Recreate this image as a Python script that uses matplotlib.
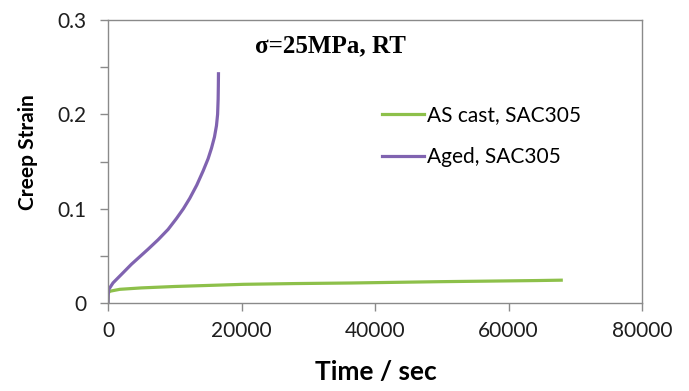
import matplotlib
matplotlib.use("Agg")
import matplotlib.pyplot as plt

# Data
ascast_time = [0, 20, 300, 1760, 5000, 10000, 20300, 28000, 36400, 49700, 57000, 64300, 67900]
ascast_strain = [0.0, 0.0106, 0.0125, 0.0145, 0.0160, 0.0175, 0.0198, 0.0206, 0.0212, 0.0226, 0.0232, 0.0238, 0.0242]

aged_time = [0, 30, 100, 750, 2250, 3500, 4750, 6000, 7500, 9000, 10250, 11300, 12250,
             13300, 14250, 15000, 15500, 15950, 16250, 16420, 16500, 16530, 16550]
aged_strain = [0.0, 0.008, 0.0142, 0.0213, 0.032, 0.041, 0.049, 0.057, 0.067, 0.078, 0.0895,
               0.100, 0.111, 0.125, 0.140, 0.153, 0.164, 0.176, 0.188, 0.200, 0.216, 0.230, 0.243]

series_labels = ["AS cast, SAC305", "Aged, SAC305"]
title_text = "σ=25MPa, RT"
x_label = "Time / sec"
y_label = "Creep Strain"
x_ticks = [0, 20000, 40000, 60000, 80000]
y_ticks = [0, 0.1, 0.2, 0.3]
y_tick_labels = ["0", "0.1", "0.2", "0.3"]

plt.rcParams['font.family'] = ['Lato', 'DejaVu Sans']

fig = plt.figure(figsize=(6.89, 3.91), dpi=100)
ax = fig.add_axes([108/689, 1-303/391, (642-108)/689, (303-20)/391])

green = "#8dc04a"
purple = "#8063b0"
ax.plot(ascast_time, ascast_strain, color=green, lw=2.3, label=series_labels[0])
ax.plot(aged_time, aged_strain, color=purple, lw=2.3, label=series_labels[1])

ax.set_xlim(0, 80000)
ax.set_ylim(0, 0.3)
ax.set_xticks(x_ticks)
ax.set_xticklabels([str(t) for t in x_ticks])
ax.set_yticks(y_ticks)
ax.set_yticklabels(y_tick_labels)
ax.set_yticks([0.05, 0.15, 0.25], minor=True)

spine_col = "#8a8a8a"
for s in ax.spines.values():
    s.set_color(spine_col)
    s.set_linewidth(1.0)
ax.tick_params(axis='both', which='both', direction='out', length=5.8, width=1.0,
               color=spine_col, labelsize=15, labelcolor="#1e1e1e")
ax.tick_params(axis='y', pad=9.5)
ax.tick_params(axis='x', pad=7)

ax.set_xlabel(x_label, fontsize=19, fontweight='bold')
ax.xaxis.set_label_coords((376-108)/534, (303-360)/283)
ax.set_ylabel(y_label, fontsize=15, fontweight='bold')
ax.yaxis.set_label_coords((38-108)/534, (303-152)/283)

ax.text((330-108)/534, (303-52)/283, title_text, transform=ax.transAxes, ha='center', va='baseline',
        fontsize=18, fontweight='bold', family=['Liberation Serif', 'DejaVu Serif'])

leg = ax.legend(loc='center left', bbox_to_anchor=((382-108)/534, (303-136.5)/283), frameon=False,
                fontsize=15, handlelength=2.0, handletextpad=0.15, labelspacing=1.05,
                borderpad=0, borderaxespad=0)

fig.savefig("out.png", dpi=100)
